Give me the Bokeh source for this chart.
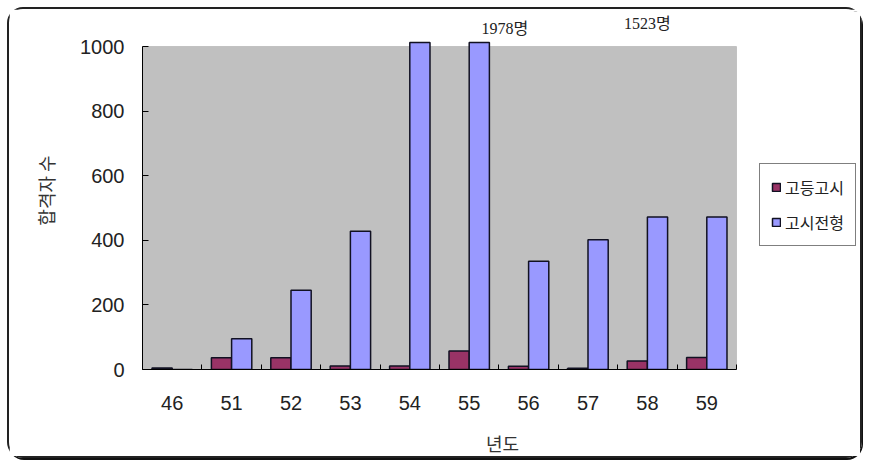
from bokeh.plotting import figure
from bokeh.models import (ColumnDataSource, Range1d, FixedTicker, Legend, LegendItem, Label,
                          BoxAnnotation)
from bokeh.transform import dodge
from bokeh.embed import file_html
from bokeh.resources import INLINE

# ---- data ----
years = ["46", "51", "52", "53", "54", "55", "56", "57", "58", "59"]
godeung_gosi = [5, 36, 36, 11, 11, 57, 10, 4, 26, 37]                # 고등고시
gosi_jeonhyeong = [0, 95, 245, 428, 1978, 1523, 335, 402, 472, 472]   # 고시전형
note_texts = ["1978명", "1523명"]
note_x = [6.1, 8.5]
note_y = [1056, 1071]
y_ticks = [0, 200, 400, 600, 800, 1000]
AXIS_MAX = 1000
BAR_CAP = 1012   # bars that run off the chart poke a little above the axis top

n = len(years)
centers = [i + 0.5 for i in range(n)]
bounds = [float(i) for i in range(n + 1)]
shown_b = [min(v, BAR_CAP) for v in gosi_jeonhyeong]

src = ColumnDataSource(dict(x=centers, a=godeung_gosi, b=shown_b))

KFONT = "Noto Sans CJK KR"
NFONT = "Liberation Sans"
W, H = 855, 451
BL, BT, BR, BB = 133, 2, 2, 91          # borders (canvas px)
PLOT_W, PLOT_H = 594, 323               # px spanned by the categories / by 0..1000
frame_w = W - BL - BR
frame_h = H - BT - BB
x_end = n * frame_w / PLOT_W
y_end = AXIS_MAX * frame_h / PLOT_H

p = figure(width=W, height=H, output_backend="svg", toolbar_location=None,
           x_range=Range1d(0, x_end), y_range=Range1d(0, y_end),
           min_border_left=BL, min_border_right=BR, min_border_top=BT,
           min_border_bottom=BB)
p.background_fill_color = "white"
p.border_fill_color = "white"
p.outline_line_color = None
p.grid.visible = False

# grey plot area
p.add_layout(BoxAnnotation(left=0, right=n, bottom=0, top=AXIS_MAX,
                           fill_color="#C0C0C0", fill_alpha=1,
                           line_color="#808080", line_width=1,
                           level="underlay", editable=False))

r1 = p.vbar(x=dodge("x", -0.17), top="a", width=0.34, source=src,
            fill_color="#993366", line_color="#111122", line_width=1.5)
r2 = p.vbar(x=dodge("x", 0.17), top="b", width=0.34, source=src,
            fill_color="#9999FF", line_color="#111122", line_width=1.5)

# x axis
xa = p.xaxis[0]
xa.bounds = (0, n)
xa.ticker = FixedTicker(ticks=centers, minor_ticks=bounds)
xa.major_label_overrides = {c: y for c, y in zip(centers, years)}
xa.major_tick_in = 0
xa.major_tick_out = 0
xa.minor_tick_in = 5
xa.minor_tick_out = 0
xa.minor_tick_line_color = "black"
xa.axis_line_color = "black"
xa.major_label_standoff = 26
xa.axis_label = "년도"
xa.axis_label_standoff = 17

# y axis
ya = p.yaxis[0]
ya.bounds = (0, AXIS_MAX)
ya.ticker = FixedTicker(ticks=y_ticks)
ya.major_tick_in = 6
ya.major_tick_out = 0
ya.minor_tick_line_color = None
ya.axis_line_color = "black"
ya.major_label_standoff = 18
ya.axis_label = "합격자 수"
ya.axis_label_standoff = 18

for ax in (xa, ya):
    ax.major_label_text_font = NFONT
    ax.major_label_text_font_size = "20px"
    ax.major_label_text_color = "#222222"
    ax.axis_label_text_font = KFONT
    ax.axis_label_text_font_size = "18px"
    ax.axis_label_text_font_style = "normal"
    ax.axis_label_text_color = "#333333"

for t, x, y in zip(note_texts, note_x, note_y):
    p.add_layout(Label(x=x, y=y, text=t, text_align="center", text_baseline="middle",
                       text_font="Liberation Serif, Noto Sans CJK KR", text_font_size="16px",
                       text_color="#222222"))

legend = Legend(items=[LegendItem(label="고등고시", renderers=[r1]),
                       LegendItem(label="고시전형", renderers=[r2])],
                location=(617, 123), orientation="vertical")
legend.label_text_font = KFONT
legend.label_text_font_size = "16px"
legend.label_text_color = "#222222"
legend.glyph_width = 10
legend.glyph_height = 10
legend.label_standoff = 4
legend.spacing = 11
legend.padding = 11
legend.margin = 0
legend.border_line_color = "black"
legend.border_line_width = 1
legend.background_fill_color = "white"
legend.background_fill_alpha = 1
p.add_layout(legend, "center")

p.styles = {"border": "2px solid #222222", "border-radius": "16px", "margin": "7px",
            "box-shadow": "1px 2px 0 #111111"}

open("out.html", "w").write(file_html(p, INLINE))
